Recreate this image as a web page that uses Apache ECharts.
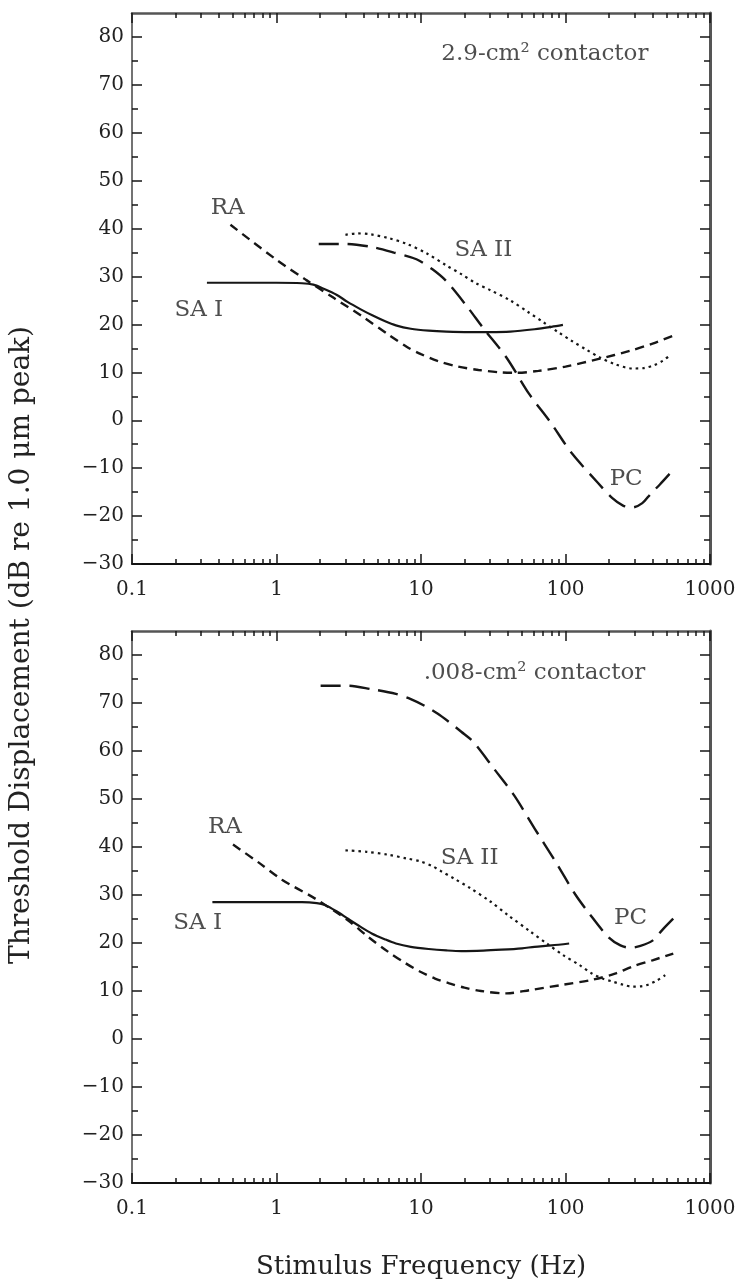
<!DOCTYPE html>
<html><head><meta charset="utf-8">
<script src="https://cdn.jsdelivr.net/npm/echarts@6/dist/echarts.min.js"></script>
<style>html,body{margin:0;padding:0;background:#fff}#c{width:742px;height:1281px}</style>
</head><body><div id="c"></div>
<script>
// ---------- tick labels ----------
const xTickValues = [0.1, 1, 10, 100, 1000];
const yTickValues = [-30, -20, -10, 0, 10, 20, 30, 40, 50, 60, 70, 80];
const yMinorValues = [-25, -15, -5, 5, 15, 25, 35, 45, 55, 65, 75];
const minorMultipliers = [2, 3, 4, 5, 6, 7, 8, 9];

// ---------- top panel (2.9-cm2 contactor) ----------
const topSA1F = [0.33, 0.6, 1.0, 1.5, 1.8, 2.1, 2.6, 3.1, 3.8, 4.6, 5.6, 6.7, 8.5, 11.3, 15, 21.7, 30, 41.5, 61, 80, 96];
const topSA1V = [28.7, 28.7, 28.7, 28.6, 28.3, 27.5, 26.2, 24.7, 23.2, 21.9, 20.7, 19.8, 19.1, 18.7, 18.5, 18.4, 18.4, 18.5, 19.0, 19.5, 19.9];
const topRAF = [0.48, 1.0, 1.6, 2.5, 4.0, 6.0, 8.0, 10, 13, 18, 25, 35, 45, 65, 100, 170, 280, 400, 550];
const topRAV = [40.8, 33.5, 29.3, 25.5, 21.5, 17.8, 15.3, 13.8, 12.4, 11.2, 10.5, 10.0, 9.9, 10.3, 11.2, 12.8, 14.5, 16.0, 17.6];
const topSA2F = [3.0, 3.6, 4.5, 6, 8, 11, 15, 19, 24, 30, 41.5, 55, 70, 90, 110, 140, 173, 220, 290, 350, 410, 470, 525];
const topSA2V = [38.7, 39.0, 38.8, 38.0, 36.8, 34.8, 32.3, 30.5, 28.6, 27.2, 25.0, 22.6, 20.5, 18.3, 16.6, 14.7, 13.1, 11.7, 10.8, 10.9, 11.5, 12.4, 13.5];
const topPCF = [1.96, 3.0, 4.5, 6.5, 9.3, 12, 15, 21, 27, 39, 56, 79, 110, 168, 210, 250, 291, 340, 390, 450, 525];
const topPCV = [36.8, 36.8, 36.2, 35.0, 33.6, 31.5, 29.0, 23.6, 19.2, 13.1, 5.5, -0.5, -6.8, -13.1, -16.2, -17.8, -18.2, -17.3, -15.3, -13.4, -11.2];
const topLabelText = ['RA', 'SA I', 'SA II', 'PC', '2.9-cm\u00B2 contactor'];
const topLabelF = [0.46, 0.29, 27, 263, 72];
const topLabelV = [44.3, 23, 35.6, -12.2, 76.5];

// ---------- bottom panel (.008-cm2 contactor) ----------
const botSA1F = [0.36, 0.7, 1.0, 1.5, 1.9, 2.16, 2.6, 3.1, 3.8, 4.56, 5.6, 6.7, 8.5, 11.3, 15, 19, 27, 36, 50, 61, 80, 106];
const botSA1V = [28.5, 28.5, 28.5, 28.5, 28.3, 27.9, 26.6, 25.1, 23.4, 22.0, 20.8, 19.9, 19.2, 18.75, 18.45, 18.3, 18.4, 18.6, 18.9, 19.2, 19.5, 19.9];
const botRAF = [0.5, 0.75, 1.09, 1.84, 3.1, 4.3, 5.9, 7.8, 9.9, 12.5, 15.7, 20, 26, 39, 57, 96, 151, 220, 291, 400, 557];
const botRAV = [40.5, 36.8, 33.2, 29.3, 24.8, 21.3, 18.2, 15.8, 14.0, 12.6, 11.6, 10.7, 10.0, 9.5, 10.2, 11.3, 12.3, 13.6, 15.1, 16.4, 17.8];
const botSA2F = [3.0, 4.2, 5.9, 8, 9.9, 12, 13.7, 17, 21.7, 30, 40, 57, 75, 96, 125, 151, 180, 210, 250, 291, 340, 378, 430, 490];
const botSA2V = [39.3, 39.0, 38.4, 37.6, 37.0, 36.0, 35.0, 33.4, 31.5, 28.7, 25.8, 22.4, 19.8, 17.5, 15.4, 13.7, 12.6, 12.0, 11.3, 10.9, 11.0, 11.4, 12.2, 13.3];
const botPCF = [2.02, 3.1, 4.5, 6.7, 8.5, 10.6, 13, 15.7, 19, 23, 32, 44, 61, 85, 117, 143, 197, 240, 282, 330, 400, 470, 575];
const botPCV = [73.6, 73.6, 72.9, 71.9, 70.8, 69.4, 67.8, 66.0, 64.0, 61.9, 56.3, 50.8, 43.9, 37.0, 30.1, 26.5, 21.3, 19.5, 19.0, 19.4, 20.5, 22.8, 25.5];
const botLabelText = ['RA', 'SA I', 'SA II', 'PC', '.008-cm\u00B2 contactor'];
const botLabelF = [0.44, 0.285, 21.7, 282, 61];
const botLabelV = [44.1, 24.1, 37.7, 25.1, 76.3];

// ---------- build ----------
const FONT = '"DejaVu Serif", "Liberation Serif", serif';
const INK = '#161616';
const TXT = '#222';
const minorLog = [];
[-1, 0, 1, 2].forEach(function (d) { minorMultipliers.forEach(function (m) { minorLog.push(d + Math.log10(m)); }); });

function pairs(f, v) { return f.map(function (x, i) { return [x, v[i]]; }); }

const grids = [
  { left: 132, right: 32, top: 13, height: 551 },
  { left: 132, right: 32, top: 631, height: 552 }
];
const xAxes = [], yAxes = [], series = [];
const tickStyle = { color: INK, width: 1.5 };

grids.forEach(function (g, gi) {
  xAxes.push({ type: 'log', gridIndex: gi, position: 'bottom', logBase: 10, min: 0.1, max: 1000,
    axisLine: { show: true, onZero: false, lineStyle: { color: '#111', width: 2 } },
    axisTick: { show: true, inside: true, length: 10, lineStyle: tickStyle },
    axisLabel: { show: true, margin: 16, fontFamily: FONT, fontSize: 20, color: TXT,
      customValues: xTickValues,
      formatter: function (v) { return v < 1 ? v.toFixed(1) : String(Math.round(v)); } },
    splitLine: { show: false } });
  xAxes.push({ type: 'value', gridIndex: gi, position: 'bottom', min: -1, max: 3,
    axisLine: { show: false, onZero: false }, axisLabel: { show: false }, splitLine: { show: false },
    axisTick: { show: true, inside: true, length: 5, customValues: minorLog, lineStyle: tickStyle } });
  xAxes.push({ type: 'log', gridIndex: gi, position: 'top', logBase: 10, min: 0.1, max: 1000,
    axisLine: { show: true, onZero: false, lineStyle: { color: '#555', width: 2.5 } },
    axisTick: { show: true, inside: true, length: 10, lineStyle: tickStyle },
    axisLabel: { show: false }, splitLine: { show: false } });
  xAxes.push({ type: 'value', gridIndex: gi, position: 'top', min: -1, max: 3,
    axisLine: { show: false, onZero: false }, axisLabel: { show: false }, splitLine: { show: false },
    axisTick: { show: true, inside: true, length: 5, customValues: minorLog, lineStyle: tickStyle } });
  yAxes.push({ type: 'value', gridIndex: gi, position: 'left', min: -30, max: 85, interval: 10,
    axisLine: { show: true, onZero: false, lineStyle: { color: '#444', width: 1.5 } },
    axisTick: { show: true, inside: true, length: 10, customValues: yTickValues, lineStyle: tickStyle },
    axisLabel: { show: true, margin: 8, fontFamily: FONT, fontSize: 20, color: TXT, customValues: yTickValues,
      formatter: function (v) { return String(v).replace('-', '\u2212'); } },
    splitLine: { show: false } });
  yAxes.push({ type: 'value', gridIndex: gi, position: 'left', min: -30, max: 85,
    axisLine: { show: false, onZero: false }, axisLabel: { show: false }, splitLine: { show: false },
    axisTick: { show: true, inside: true, length: 6, customValues: yMinorValues, lineStyle: tickStyle } });
  yAxes.push({ type: 'value', gridIndex: gi, position: 'right', min: -30, max: 85,
    axisLine: { show: true, onZero: false, lineStyle: { color: '#555', width: 3 } },
    axisTick: { show: true, inside: true, length: 10, customValues: yTickValues, lineStyle: tickStyle },
    axisLabel: { show: false }, splitLine: { show: false } });
  yAxes.push({ type: 'value', gridIndex: gi, position: 'right', min: -30, max: 85,
    axisLine: { show: false, onZero: false }, axisLabel: { show: false }, splitLine: { show: false },
    axisTick: { show: true, inside: true, length: 6, customValues: yMinorValues, lineStyle: tickStyle } });
});

const panels = [
  { sa1: [topSA1F, topSA1V], ra: [topRAF, topRAV], sa2: [topSA2F, topSA2V], pc: [topPCF, topPCV], lt: topLabelText, lf: topLabelF, lv: topLabelV },
  { sa1: [botSA1F, botSA1V], ra: [botRAF, botRAV], sa2: [botSA2F, botSA2V], pc: [botPCF, botPCV], lt: botLabelText, lf: botLabelF, lv: botLabelV }
];
const styles = {
  sa1: { type: 'solid', width: 2.2 },
  ra: { type: [9, 6], width: 2.4 },
  sa2: { type: [2.5, 4], width: 2.2 },
  pc: { type: [20, 9], width: 2.4 }
};
panels.forEach(function (p, gi) {
  ['sa1', 'ra', 'sa2', 'pc'].forEach(function (k) {
    series.push({ type: 'line', name: k + gi, xAxisIndex: gi * 4, yAxisIndex: gi * 4,
      data: pairs(p[k][0], p[k][1]), showSymbol: false, symbol: 'none', smooth: 0.3,
      lineStyle: { color: INK, width: styles[k].width, type: styles[k].type, cap: 'butt' },
      silent: true, animation: false });
  });
  series.push({ type: 'scatter', xAxisIndex: gi * 4, yAxisIndex: gi * 4, symbol: 'circle', symbolSize: 1,
    itemStyle: { color: 'rgba(0,0,0,0)' }, silent: true, animation: false,
    data: p.lt.map(function (t, i) { return { name: t, value: [p.lf[i], p.lv[i]] }; }),
    label: { show: true, position: 'inside', formatter: function (d) { return d.name; },
      fontFamily: FONT, fontSize: 23, color: TXT } });
});

const chart = echarts.init(document.getElementById('c'), null, { renderer: 'canvas' });
chart.setOption({
  backgroundColor: '#fff',
  animation: false,
  grid: grids,
  xAxis: xAxes,
  yAxis: yAxes,
  series: series,
  graphic: [
    { type: 'text', x: 421, y: 1267, style: { text: 'Stimulus Frequency (Hz)', font: '26px "DejaVu Serif"', fill: TXT, align: 'center', verticalAlign: 'middle' } },
    { type: 'text', x: 22, y: 645, rotation: Math.PI / 2, style: { text: 'Threshold Displacement (dB re 1.0 \u03BCm peak)', font: '28px "DejaVu Serif"', fill: TXT, align: 'center', verticalAlign: 'middle' } }
  ]
});
</script>
</body></html>
